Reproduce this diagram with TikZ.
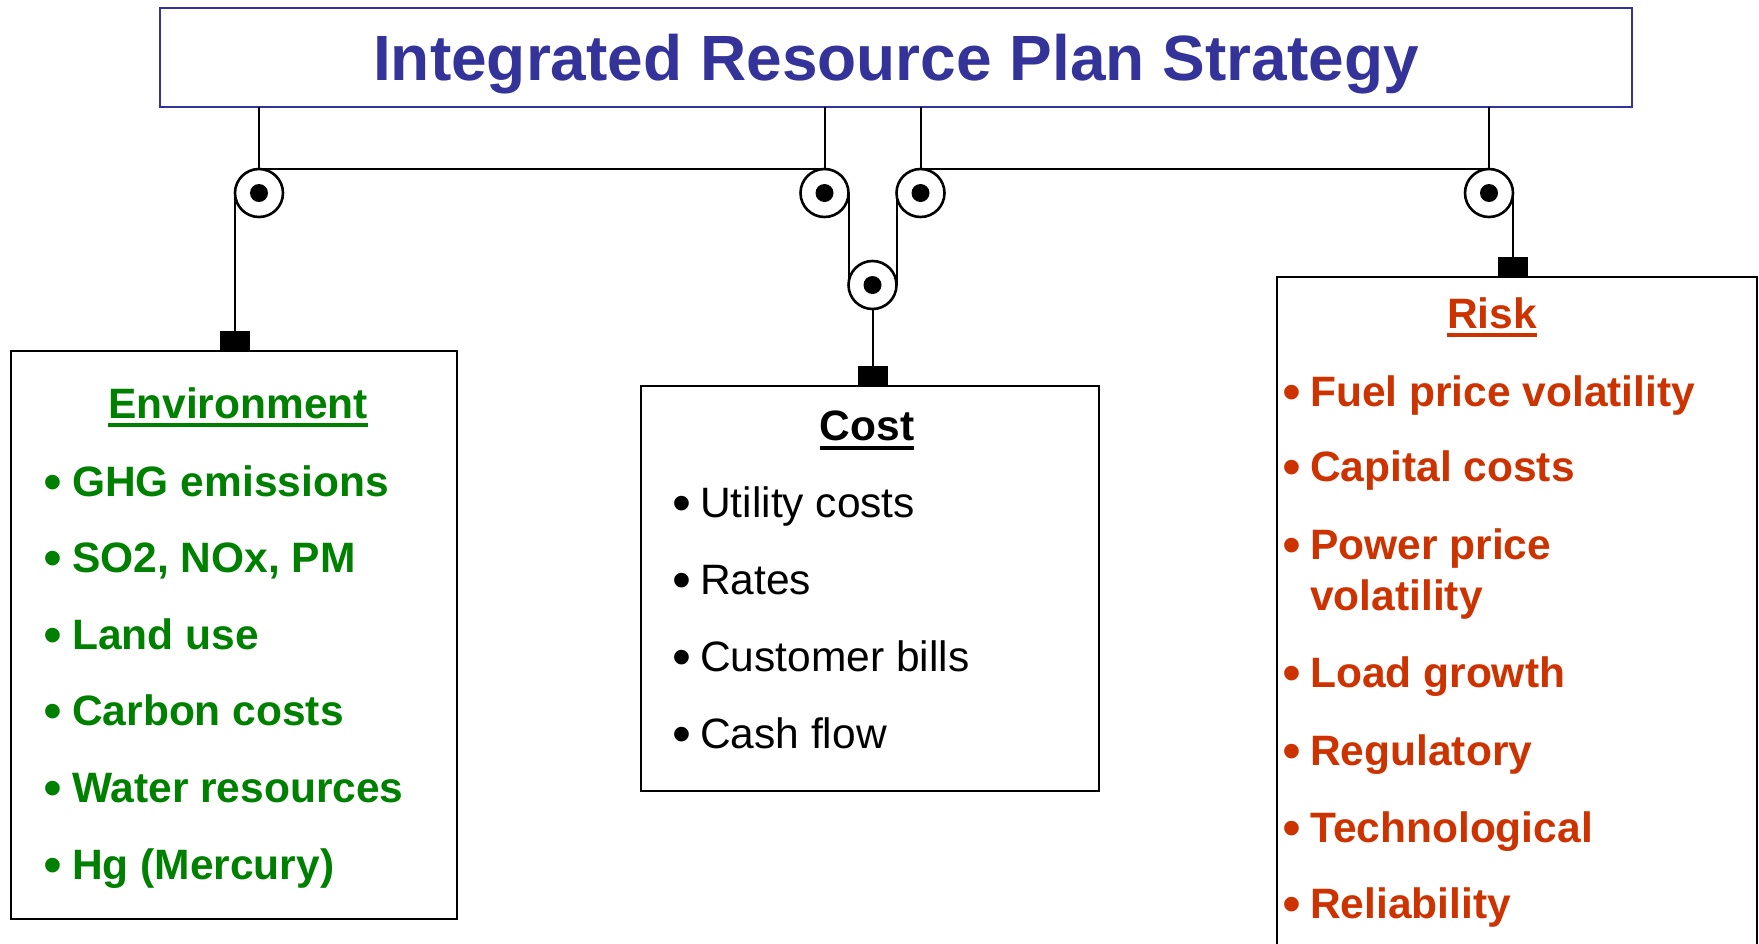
\documentclass[tikz,border=0pt]{standalone}
\usepackage{fontspec}
\setmainfont{Liberation Sans}
\definecolor{tblue}{HTML}{333399}
\definecolor{egreen}{HTML}{008000}
\definecolor{rred}{HTML}{CC3300}
\begin{document}
\begin{tikzpicture}[x=1pt,y=-1pt,
  rope/.style={line width=2pt},
  pulley/.style={circle,draw,line width=2.6pt,minimum size=48pt,inner sep=0pt,outer sep=0pt},
  weightbox/.style={rectangle,fill=black,minimum width=30pt,minimum height=20pt,inner sep=0pt,outer sep=0pt},
  panel/.style={rectangle,draw,line width=2pt,inner sep=0pt,outer sep=0pt,anchor=north west},
  bigfont/.style={font=\fontsize{42.5}{51}\selectfont\bfseries},
  regfont/.style={font=\fontsize{42.5}{51}\selectfont},
  bulfont/.style={font=\fontsize{54}{60}\selectfont},
  itm/.style={anchor=base west,inner sep=0pt},
  bul/.style={anchor=base,inner sep=0pt,yshift=-4pt},
  head/.style={anchor=base,inner sep=0pt,font=\fontsize{42.5}{51}\selectfont\bfseries}
]
\useasboundingbox (0,0) rectangle (1759,943);

% title
\node[draw=tblue,line width=2.4pt,minimum width=1472pt,minimum height=99pt,inner sep=0pt,outer sep=0pt,
      text=tblue,font=\fontsize{64}{77}\selectfont\bfseries,text height=45pt,text depth=0pt]
      (title) at (896,57.5) {Integrated Resource Plan Strategy};

% pulleys
\node[pulley] (p1) at (259,193) {};
\node[pulley] (p2) at (824.5,193) {};
\node[pulley] (p3) at (920.5,193) {};
\node[pulley] (p4) at (872.5,285) {};
\node[pulley] (p5) at (1489,193) {};
\foreach \p in {p1,p2,p3,p4,p5} \fill (\p) circle (9pt);

% weights
\node[weightbox] (w1) at (235,341) {};
\node[weightbox] (w2) at (872.5,376) {};
\node[weightbox] (w3) at (1513,267) {};

% panels
\node[panel,minimum width=446pt,minimum height=568pt] (env) at (11,350.5) {};
\node[panel,minimum width=458pt,minimum height=405pt] (cost) at (641,386) {};
\node[panel,minimum width=480pt,minimum height=700pt] (risk) at (1277,277) {};

% ropes
\draw[rope] (title.south -| p1.north) -- (p1.north);
\draw[rope] (p1.north) -- (p2.north);
\draw[rope] (title.south -| p2.north) -- (p2.north);
\draw[rope] (p1.west) -- (p1.west |- w1.north);
\draw[rope] (p2.east) -- (p2.east |- p4.west);
\draw[rope] (p3.west) -- (p3.west |- p4.east);
\draw[rope] (p4.south) -- (w2.north);
\draw[rope] (title.south -| p3.north) -- (p3.north);
\draw[rope] (p3.north) -- (p5.north);
\draw[rope] (title.south -| p5.north) -- (p5.north);
\draw[rope] (p5.east) -- (p5.east |- w3.north);

% Environment
\node[head,text=egreen] (eh) at (238,418) {Environment};
\draw[egreen,line width=4pt] ([yshift=-7pt]eh.base west) -- ([yshift=-7pt]eh.base east);
\foreach \t [count=\i] in {GHG emissions,{SO2, NOx, PM},Land use,Carbon costs,Water resources,Hg (Mercury)} {
  \node[bul,bulfont,text=egreen] (eb\i) at (53,{496+(\i-1)*76.6}) {•};
  \node[itm,bigfont,text=egreen] (e\i) at (72,{496+(\i-1)*76.6}) {\t};
}

% Cost
\node[head,text=black] (ch) at (867,440) {Cost};
\draw[black,line width=4pt] ([yshift=-8pt]ch.base west) -- ([yshift=-8pt]ch.base east);
\foreach \t [count=\i] in {Utility costs,Rates,Customer bills,Cash flow} {
  \node[bul,bulfont] (cb\i) at (682,{517+(\i-1)*77}) {•};
  \node[itm,regfont] (c\i) at (700,{517+(\i-1)*77}) {\t};
}

% Risk
\node[head,text=rred] (rh) at (1492,328) {Risk};
\draw[rred,line width=4pt] ([yshift=-7pt]rh.base west) -- ([yshift=-7pt]rh.base east);
\foreach \t/\y [count=\i] in {Fuel price volatility/406,Capital costs/481,Power price/559,Load growth/687,Regulatory/765,Technological/842,Reliability/918} {
  \node[bul,bulfont,text=rred] (rb\i) at (1292,\y) {•};
  \node[itm,bigfont,text=rred] (r\i) at (1310,\y) {\t};
}
\node[itm,bigfont,text=rred] (r3b) at (1310,610) {volatility};
\end{tikzpicture}
\end{document}
